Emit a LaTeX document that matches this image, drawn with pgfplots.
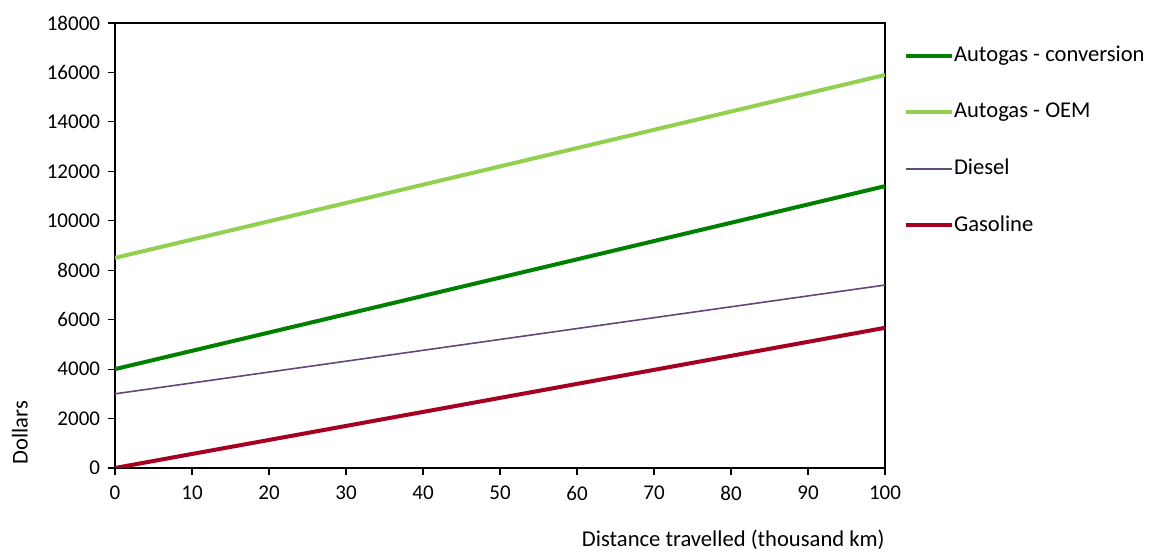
\documentclass[border=0pt]{standalone}
\usepackage{fontspec}
\setmainfont{Carlito}
\usepackage{pgfplots}
\pgfplotsset{compat=1.18}
\definecolor{cconv}{RGB}{0,128,0}
\definecolor{coem}{RGB}{146,208,80}
\definecolor{cdiesel}{RGB}{96,73,122}
\definecolor{cgas}{RGB}{165,0,33}
\begin{document}
\fontsize{11.3}{13.6}\selectfont
\begin{tikzpicture}
\begin{axis}[
  scale only axis,
  width=385pt, height=222.5pt,
  at={(57.5pt,41.5pt)}, anchor=south west,
  xmin=0, xmax=100, ymin=0, ymax=18000,
  xtick={0,10,...,100},
  ytick={0,2000,...,18000},
  scaled ticks=false,
  /pgf/number format/1000 sep={},
  /pgf/number format/assume math mode=true,
  tick pos=left,
  tick align=outside,
  major tick length=3.5pt,
  tick style={black, line width=0.6pt},
  axis line style={black, line width=0.6pt},
  ticklabel style={font=\fontsize{10.5}{12.6}\selectfont},
  xticklabel style={yshift=-1.5pt},
  xlabel={Distance travelled (thousand km)},
  ylabel={Dollars},
  xlabel style={at={(axis description cs:1,-0.162)}, anchor=east, inner sep=0pt, font=\fontsize{11.3}{13.6}\selectfont},
  ylabel style={at={(axis description cs:-0.1234,0.007)}, anchor=west, inner sep=0pt, font=\fontsize{11.3}{13.6}\selectfont},
  legend style={at={(axis description cs:1.0247,0.952)}, anchor=north west, draw=none, fill=none,
    row sep=17pt, inner sep=0pt, outer sep=0pt,
    nodes={inner sep=0pt, text height=0.75em, text depth=0.25em, font=\fontsize{11.3}{13.6}\selectfont}},
  legend cell align=left,
  legend image code/.code={\draw[#1] (0pt,0pt) -- (20.5pt,0pt); \path (0pt,0pt) -- (23pt,0pt);},
]
\addplot[cconv, line width=2pt] coordinates {(0,4000) (100,11400)};
\addlegendentry{Autogas - conversion}
\addplot[coem, line width=2pt] coordinates {(0,8500) (100,15900)};
\addlegendentry{Autogas - OEM}
\addplot[cdiesel, line width=0.8pt] coordinates {(0,3000) (100,7400)};
\addlegendentry{Diesel}
\addplot[cgas, line width=2pt] coordinates {(0,0) (100,5670)};
\addlegendentry{Gasoline}
\end{axis}
\pgfresetboundingbox
\path (0pt,0pt) rectangle (574.5pt,275.5pt);
\end{tikzpicture}
\end{document}
